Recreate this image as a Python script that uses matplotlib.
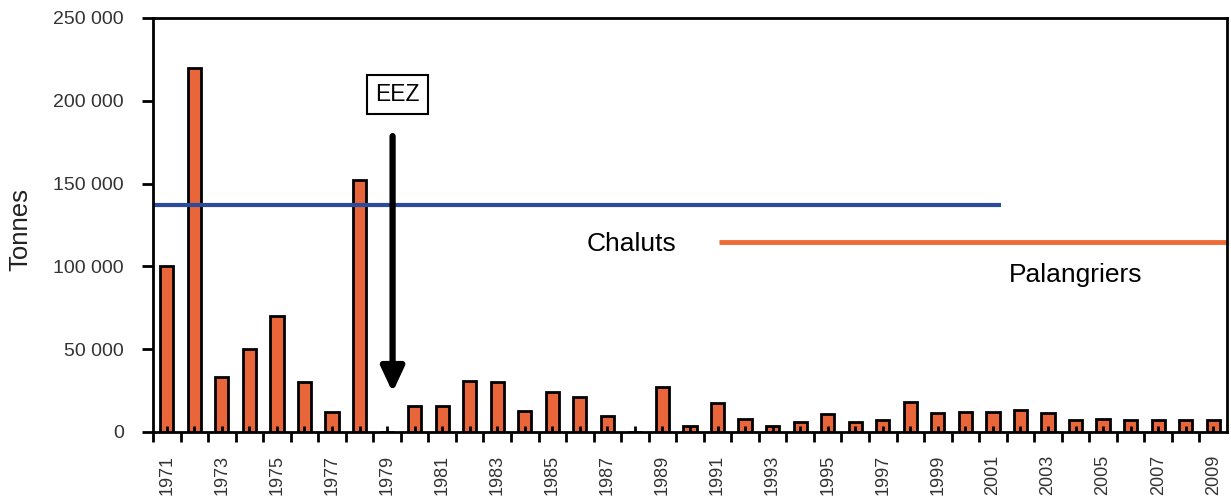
import matplotlib
matplotlib.use("Agg")
import matplotlib.pyplot as plt
from matplotlib.ticker import FixedLocator, FuncFormatter
import numpy as np

plt.rcParams['font.family'] = ['Liberation Sans', 'DejaVu Sans']

years = list(range(1971, 2010))
catches = [100000, 220000, 33000, 50000, 70000, 30000, 12000, 152000, 0,
           16000, 16000, 31000, 30000, 12700, 24000, 21000, 9500, 0,
           27000, 3500, 17500, 8000, 3500, 6000, 11000, 6000, 7000,
           18000, 11500, 12000, 12000, 13000, 11500, 7000, 8000, 7000,
           7000, 7000, 7000]
tick_years = list(range(1971, 2010, 2))
yticks = [0, 50000, 100000, 150000, 200000, 250000]

# fleet periods (years) and reference levels
chaluts_start, chaluts_end, chaluts_level = 1970.5, 2001.3, 137000
palang_start, palang_end, palang_level = 1991.05, 2009.5, 114900
eez_year = 1979.2

BAR = "#E8663A"
BLUE = "#2E4B9B"
ORANGE = "#EE6B35"

fig = plt.figure(figsize=(12.31, 5.04), dpi=100)
ax = fig.add_axes([153/1231, 1-432/504, (1227-153)/1231, (432-18)/504])
ax.set_axisbelow(False)

ax.bar(years, catches, width=0.48, color=BAR, edgecolor="black", linewidth=2, zorder=2)

ax.set_xlim(years[0]-0.5, years[-1]+0.5)
ax.set_ylim(0, 250000)

# y axis
ax.set_yticks(yticks)
ax.yaxis.set_major_formatter(FuncFormatter(lambda v, p: f"{int(v):,}".replace(",", " ")))
ax.tick_params(axis='y', direction='out', length=8, width=2, pad=13,
               labelsize=14, labelcolor="#333333")

# x axis: labelled inward ticks at bar centres, outward ticks at boundaries
ax.xaxis.set_major_locator(FixedLocator(years))
ax.set_xticklabels([str(y) if y in tick_years else "" for y in years], rotation=90)
ax.xaxis.set_minor_locator(FixedLocator([y + 0.5 for y in years[:-1]] + [years[0]-0.5]))
ax.tick_params(axis='x', which='major', direction='in', length=4, width=2,
               pad=16.5, labelsize=13, labelcolor="#333333")
ax.tick_params(axis='x', which='minor', direction='out', length=7, width=2)

for s in ax.spines.values():
    s.set_linewidth(2)
    s.set_zorder(5)

fig.text(20/1231, 1-229.5/504, "Tonnes", fontsize=18.5, color="#222222",
         rotation=90, ha='center', va='center')

# fleet lines
ax.plot([chaluts_start, chaluts_end], [chaluts_level]*2, color=BLUE, lw=3, solid_capstyle='butt', zorder=3)
ax.plot([palang_start, palang_end], [palang_level]*2, color=ORANGE, lw=3.5, solid_capstyle='butt', zorder=3, clip_on=False)
ax.text(1986.26, 113500, "Chaluts", fontsize=19, ha='left', va='center')
ax.text(2001.58, 94800, "Palangriers", fontsize=19, ha='left', va='center')

# EEZ annotation
ax.annotate("", xy=(eez_year, 24000), xytext=(eez_year, 178700),
            arrowprops=dict(arrowstyle="-|>,head_length=1.5,head_width=0.7",
                            color="black", lw=4.5, shrinkA=0, shrinkB=0),
            zorder=4)
ax.text(eez_year + 0.18, 203800, "EEZ", fontsize=16.5, ha='center', va='center',
        bbox=dict(boxstyle="square,pad=0.35", fc="white", ec="black", lw=1.5))

fig.savefig("out.png", dpi=100)
